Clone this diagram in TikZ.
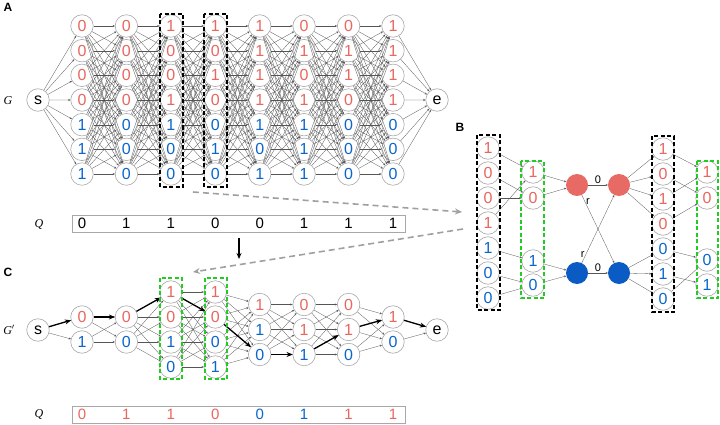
\documentclass[tikz,border=0pt]{standalone}
\usepackage{fontspec}
\setmainfont{Liberation Sans}
\newfontfamily\serifit{Liberation Serif}
\usetikzlibrary{arrows.meta}
\definecolor{myred}{HTML}{E8675F}
\definecolor{myblue}{HTML}{0A66CC}
\definecolor{fillred}{HTML}{E86A64}
\definecolor{fillblue}{HTML}{0A5CC4}
\definecolor{ndgray}{HTML}{A8A8A8}
\definecolor{edgegray}{HTML}{555555}
\definecolor{dgray}{HTML}{A0A0A0}
\definecolor{mygreen}{HTML}{22CC22}
\tikzset{
  nd/.style={circle, draw=ndgray, line width=0.6pt, minimum size=22.5pt, inner sep=0pt, font=\fontsize{16}{16}\selectfont},
  rd/.style={nd, text=myred},
  bl/.style={nd, text=myblue},
  ed/.style={draw=edgegray, line width=0.3pt, -{Stealth[length=2.2pt,width=2pt]}},
  thk/.style={draw=black, line width=1.3pt, -{Stealth[length=6pt,width=5pt]}},
  blkbox/.style={draw=black, line width=1.6pt, dash pattern=on 4pt off 2.5pt},
  grnbox/.style={draw=mygreen, line width=1.6pt, dash pattern=on 4pt off 2.5pt},
  qbox/.style={draw=ndgray, line width=1pt, minimum width=333pt, minimum height=17pt, inner sep=0pt},
  qd/.style={font=\fontsize{15}{15}\selectfont, inner sep=0pt},
  plab/.style={font=\fontsize{12}{12}\selectfont\bfseries, inner sep=0pt},
  glab/.style={font=\fontsize{12}{12}\selectfont\serifit\itshape, inner sep=0pt},
  dgarrow/.style={draw=dgray, line width=1.6pt, dash pattern=on 6pt off 4pt, -{Stealth[length=7pt,width=6pt]}},
  fc/.style={circle, minimum size=22pt, inner sep=0pt},
  smlab/.style={font=\fontsize{11}{11}\selectfont, inner sep=1pt}
}
\begin{document}
\begin{tikzpicture}[x=1pt,y=-1pt]
\useasboundingbox (0,0) rectangle (720,425);
\fill[white] (0,0) rectangle (720,425);

% ---------------- Panel A ----------------
\node[plab] (labA) at (8,7) {A};
\node[glab] (labG) at (8,101) {G};
\foreach \i/\x/\pa/\pb/\pc/\pd/\pe/\pf/\pg in {1/82/0/0/0/0/1/1/1, 2/126.4/0/0/0/0/0/0/0, 3/170.9/1/0/0/1/1/0/0, 4/215.3/1/0/1/0/0/1/0, 5/259.7/1/1/1/1/1/0/1, 6/304.1/0/1/0/1/1/1/1, 7/348.6/0/1/1/0/0/0/0, 8/393/1/1/1/1/0/0/0}{
  \foreach \j/\v in {1/\pa,2/\pb,3/\pc,4/\pd}{
    \node[rd] (a-\i-\j) at (\x,{26+24.67*(\j-1)}) {\v};
  }
  \foreach \j/\v in {5/\pe,6/\pf,7/\pg}{
    \node[bl] (a-\i-\j) at (\x,{26+24.67*(\j-1)}) {\v};
  }
}
\node[nd] (sA) at (38,100) {s};
\node[nd] (eA) at (437,100) {e};
\foreach \j in {1,...,7}{
  \draw[ed] (sA) -- (a-1-\j);
  \draw[ed] (a-8-\j) -- (eA);
}
\foreach \i/\n in {1/2,2/3,3/4,4/5,5/6,6/7,7/8}{
  \foreach \j in {1,...,7}{
    \foreach \k in {1,...,7}{
      \draw[ed] (a-\i-\j) -- (a-\n-\k);
    }
  }
}
\draw[blkbox] (160,14) rectangle (183,187);
\draw[blkbox] (204,14) rectangle (227,187);

% Q row top
\node[glab] (labQ1) at (39,224) {Q};
\node[qbox] (qA) at (238.5,223.5) {};
\foreach \i/\x/\v in {1/82/0,2/126.4/1,3/170.9/1,4/215.3/0,5/259.7/0,6/304.1/1,7/348.6/1,8/393/1}{
  \node[qd] (qa-\i) at (\x,223.5) {\v};
}

% black down arrow
\coordinate (dn1) at (239,238);
\coordinate (dn2) at (239,259);
\draw[draw=black, line width=1.4pt, -{Stealth[length=6pt,width=5pt]}] (dn1) -- (dn2);

% gray dashed arrows
\coordinate (d1s) at (193,192);
\coordinate (d1e) at (462,212);
\coordinate (d2s) at (463,229);
\coordinate (d2e) at (193,272);
\draw[dgarrow] (d1s) -- (d1e);
\draw[dgarrow] (d2s) -- (d2e);

% ---------------- Panel B ----------------
\node[plab] (labB) at (460,127) {B};
\foreach \j/\v/\s in {1/1/rd,2/0/rd,3/0/rd,4/1/rd,5/1/bl,6/0/bl,7/0/bl}{
  \node[\s] (bl-\j) at (488,{148+25*(\j-1)}) {\v};
}
\foreach \j/\v/\s in {1/1/rd,2/0/rd,3/1/rd,4/0/rd,5/0/bl,6/1/bl,7/0/bl}{
  \node[\s] (br-\j) at (663,{149+25*(\j-1)}) {\v};
}
\node[rd] (gl-1) at (533,172) {1};
\node[rd] (gl-2) at (533,198) {0};
\node[bl] (gl-3) at (533,261) {1};
\node[bl] (gl-4) at (533,285) {0};
\node[rd] (gr-1) at (707,172) {1};
\node[rd] (gr-2) at (707,198) {0};
\node[bl] (gr-3) at (707,260) {0};
\node[bl] (gr-4) at (707,285) {1};
\node[fc, fill=fillred] (rl) at (577,185) {};
\node[fc, fill=fillred] (rr) at (619,185) {};
\node[fc, fill=fillblue] (bll) at (577,273) {};
\node[fc, fill=fillblue] (blr) at (619,273) {};
% left column to left green
\draw[ed] (bl-1) -- (gl-1);
\draw[ed] (bl-2) -- (gl-2);
\draw[ed] (bl-3) -- (gl-2);
\draw[ed] (bl-4) -- (gl-1);
\draw[ed] (bl-5) -- (gl-3);
\draw[ed] (bl-6) -- (gl-4);
\draw[ed] (bl-7) -- (gl-4);
\draw[ed] (gl-1) -- (rl);
\draw[ed] (gl-2) -- (rl);
\draw[ed] (gl-3) -- (bll);
\draw[ed] (gl-4) -- (bll);
% middle
\draw[ed] (rl) -- node[smlab, above] {0} (rr);
\draw[ed] (bll) -- node[smlab, above] {0} (blr);
\draw[ed] (rl) -- node[smlab, pos=0.1, right] {r} (blr);
\draw[ed] (bll) -- node[smlab, pos=0.12, left] {r} (rr);
% right
\foreach \j in {1,...,4}{\draw[ed] (rr) -- (br-\j);}
\foreach \j in {5,...,7}{\draw[ed] (blr) -- (br-\j);}
\draw[ed] (br-1) -- (gr-1);
\draw[ed] (br-2) -- (gr-2);
\draw[ed] (br-3) -- (gr-1);
\draw[ed] (br-4) -- (gr-2);
\draw[ed] (br-5) -- (gr-3);
\draw[ed] (br-6) -- (gr-4);
\draw[ed] (br-7) -- (gr-3);
\draw[blkbox] (477,135) rectangle (500,310);
\draw[grnbox] (521,161) rectangle (544,298);
\draw[blkbox] (652,136) rectangle (674,312);
\draw[grnbox] (697,161) rectangle (718,298);

% ---------------- Panel C ----------------
\node[plab] (labC) at (8,272) {C};
\node[glab] (labG2) at (9,330) {G$'$};
\node[nd] (sC) at (38,330) {s};
\node[nd] (eC) at (437,330) {e};
\node[rd] (c-1-1) at (82,317) {0};
\node[bl] (c-1-2) at (82,342) {1};
\node[rd] (c-2-1) at (126.4,317) {0};
\node[bl] (c-2-2) at (126.4,342) {0};
\node[rd] (c-3-1) at (170.9,292) {1};
\node[rd] (c-3-2) at (170.9,317) {0};
\node[bl] (c-3-3) at (170.9,342) {1};
\node[bl] (c-3-4) at (170.9,367) {0};
\node[rd] (c-4-1) at (215.3,292) {1};
\node[rd] (c-4-2) at (215.3,317) {0};
\node[bl] (c-4-3) at (215.3,342) {0};
\node[bl] (c-4-4) at (215.3,367) {1};
\node[rd] (c-5-1) at (259.7,304.5) {1};
\node[bl] (c-5-2) at (259.7,329.5) {1};
\node[bl] (c-5-3) at (259.7,354.5) {0};
\node[rd] (c-6-1) at (304.1,304.5) {0};
\node[rd] (c-6-2) at (304.1,329.5) {1};
\node[bl] (c-6-3) at (304.1,354.5) {1};
\node[rd] (c-7-1) at (348.6,304.5) {0};
\node[rd] (c-7-2) at (348.6,329.5) {1};
\node[bl] (c-7-3) at (348.6,354.5) {0};
\node[rd] (c-8-1) at (393,317) {1};
\node[bl] (c-8-2) at (393,342) {0};
\foreach \j in {1,2}{
  \draw[ed] (sC) -- (c-1-\j);
  \draw[ed] (c-8-\j) -- (eC);
}
\foreach \i/\n/\m/\p in {1/2/2/2, 2/2/4/3, 3/4/4/4, 4/4/3/5, 5/3/3/6, 6/3/3/7, 7/3/2/8}{
  \foreach \j in {1,...,\n}{
    \foreach \k in {1,...,\m}{
      \draw[ed] (c-\i-\j) -- (c-\p-\k);
    }
  }
}
\draw[thk] (sC) -- (c-1-1);
\draw[thk] (c-1-1) -- (c-2-1);
\draw[thk] (c-2-1) -- (c-3-1);
\draw[thk] (c-3-1) -- (c-4-2);
\draw[thk] (c-4-2) -- (c-5-3);
\draw[thk] (c-5-3) -- (c-6-3);
\draw[thk] (c-6-3) -- (c-7-2);
\draw[thk] (c-7-2) -- (c-8-1);
\draw[thk] (c-8-1) -- (eC);
\draw[grnbox] (160,278) rectangle (182,379);
\draw[grnbox] (205,278) rectangle (227,379);

% Q row bottom
\node[glab] (labQ2) at (39,414) {Q};
\node[qbox] (qC) at (238.5,414.5) {};
\foreach \i/\x/\v/\cl in {1/82/0/myred,2/126.4/1/myred,3/170.9/1/myred,4/215.3/0/myred,5/259.7/0/myblue,6/304.1/1/myblue,7/348.6/1/myred,8/393/1/myred}{
  \node[qd, text=\cl] (qc-\i) at (\x,414.5) {\v};
}
\end{tikzpicture}
\end{document}
